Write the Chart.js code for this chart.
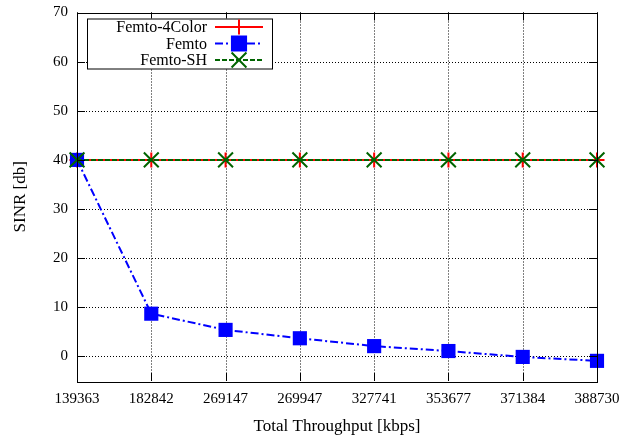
<!DOCTYPE html>
<html>
<head>
<meta charset="utf-8">
<script src="https://cdn.jsdelivr.net/npm/chart.js@4"></script>
<style>
  html, body { margin: 0; padding: 0; background: #fff; }
  #wrap { width: 620px; height: 437px; }
</style>
</head>
<body>
<div id="wrap"><canvas id="chart" width="620" height="437"></canvas></div>
<script>
const throughput = ["139363", "182842", "269147", "269947", "327741", "353677", "371384", "388730"];
const femto4Color = [40, 40, 40, 40, 40, 40, 40, 40];
const femto = [40, 8.7, 5.4, 3.7, 2.1, 1.1, -0.1, -0.9];
const femtoSH = [40, 40, 40, 40, 40, 40, 40, 40];
const yTicks = [0, 10, 20, 30, 40, 50, 60, 70];

const serif = "'Liberation Serif', 'DejaVu Serif', serif";

// gnuplot-like legend box, text on the left and line sample on the right
const boxLegend = {
  id: 'boxLegend',
  afterDraw(chart) {
    const ctx = chart.ctx;
    const a = chart.chartArea;
    const x0 = a.left + 10, y0 = a.top + 6, w = 185, rowH = 16.5;
    const sets = chart.data.datasets;
    const h = sets.length * rowH + 0.5;
    ctx.save();
    ctx.fillStyle = '#fff';
    ctx.fillRect(x0, y0, w, h);
    ctx.strokeStyle = '#000';
    ctx.lineWidth = 1;
    ctx.strokeRect(x0 + 0.5, y0 + 0.5, w, h);
    ctx.font = '16px ' + serif;
    ctx.textAlign = 'right';
    ctx.textBaseline = 'middle';
    sets.forEach((ds, i) => {
      const cy = y0 + 8.5 + i * rowH;
      ctx.fillStyle = '#000';
      ctx.fillText(ds.label, x0 + 120, cy + 1);
      ctx.strokeStyle = ds.borderColor;
      ctx.lineWidth = ds.borderWidth;
      ctx.setLineDash(ds.borderDash || []);
      ctx.beginPath();
      ctx.moveTo(x0 + 128, cy);
      ctx.lineTo(x0 + 176, cy);
      ctx.stroke();
      ctx.setLineDash([]);
      Chart.helpers.drawPoint(ctx, {
        pointStyle: ds.pointStyle,
        radius: ds.pointRadius,
        rotation: 0,
        borderWidth: ds.pointBorderWidth || ds.borderWidth
      }, x0 + 152, cy);
      if (ds.pointStyle === 'rect') {
        ctx.fillStyle = ds.pointBackgroundColor;
        ctx.fill();
      }
    });
    ctx.restore();
  }
};

// dotted grid, inward tick marks and frame, drawn at the scale positions
const frame = {
  id: 'frame',
  beforeDatasetsDraw(chart) {
    const ctx = chart.ctx;
    const a = chart.chartArea;
    const xs = chart.scales.x, ys = chart.scales.y;
    ctx.save();
    ctx.strokeStyle = '#000';
    ctx.lineWidth = 1;
    ctx.setLineDash([1, 2]);
    ctx.beginPath();
    throughput.forEach((c, i) => {
      const px = Math.round(xs.getPixelForValue(i)) + 0.5;
      ctx.moveTo(px, a.top); ctx.lineTo(px, a.bottom);
    });
    yTicks.forEach(v => {
      const py = Math.round(ys.getPixelForValue(v)) + 0.5;
      ctx.moveTo(a.left, py); ctx.lineTo(a.right, py);
    });
    ctx.stroke();
    ctx.restore();
  },
  afterDatasetsDraw(chart) {
    const ctx = chart.ctx;
    const a = chart.chartArea;
    const xs = chart.scales.x, ys = chart.scales.y;
    ctx.save();
    ctx.strokeStyle = '#000';
    ctx.lineWidth = 1;
    ctx.beginPath();
    throughput.forEach((c, i) => {
      const px = Math.round(xs.getPixelForValue(i)) + 0.5;
      ctx.moveTo(px, a.bottom); ctx.lineTo(px, a.bottom - 8);
      ctx.moveTo(px, a.top); ctx.lineTo(px, a.top + 8);
    });
    yTicks.forEach(v => {
      const py = Math.round(ys.getPixelForValue(v)) + 0.5;
      ctx.moveTo(a.left, py); ctx.lineTo(a.left + 8, py);
      ctx.moveTo(a.right, py); ctx.lineTo(a.right - 8, py);
    });
    ctx.stroke();
    ctx.strokeRect(Math.round(a.left) + 0.5, Math.round(a.top) + 0.5,
      Math.round(a.right - a.left), Math.round(a.bottom - a.top));
    ctx.restore();
  }
};

new Chart(document.getElementById('chart').getContext('2d'), {
  type: 'line',
  data: {
    labels: throughput,
    datasets: [
      {
        label: 'Femto-4Color',
        data: femto4Color,
        order: 3,
        borderColor: '#ff0000',
        backgroundColor: '#ff0000',
        borderWidth: 2,
        pointStyle: 'cross',
        pointRadius: 7.5,
        pointBorderWidth: 2,
        pointBorderColor: '#ff0000',
        fill: false,
        clip: false
      },
      {
        label: 'Femto',
        data: femto,
        order: 2,
        borderColor: '#0000ff',
        backgroundColor: '#0000ff',
        borderWidth: 2,
        borderDash: [8, 3, 2, 3],
        pointStyle: 'rect',
        pointRadius: 10,
        pointBorderWidth: 0,
        pointBackgroundColor: '#0000ff',
        fill: false,
        clip: false
      },
      {
        label: 'Femto-SH',
        data: femtoSH,
        order: 1,
        borderColor: '#006400',
        backgroundColor: '#006400',
        borderWidth: 2,
        borderDash: [5, 2],
        pointStyle: 'crossRot',
        pointRadius: 10.5,
        pointBorderWidth: 2,
        pointBorderColor: '#006400',
        fill: false,
        clip: false
      }
    ]
  },
  options: {
    responsive: false,
    animation: false,
    layout: { padding: { top: 10, right: 23, left: 10, bottom: 0 } },
    plugins: {
      legend: { display: false },
      tooltip: { enabled: false }
    },
    scales: {
      x: {
        offset: false,
        grid: { display: false, drawTicks: false },
        border: { display: false },
        ticks: {
          color: '#000',
          font: { family: serif, size: 15 },
          padding: 9,
          maxRotation: 0,
          autoSkip: false
        },
        title: {
          display: true,
          text: 'Total Throughput [kbps]',
          color: '#000',
          font: { family: serif, size: 17 },
          padding: { top: 1, bottom: 0 }
        },
        afterFit(scale) {
          scale.height = 56;
          scale.paddingLeft = 0;
          scale.paddingRight = 0;
        }
      },
      y: {
        min: -5,
        max: 70,
        afterBuildTicks(scale) { scale.ticks = yTicks.map(v => ({ value: v })); },
        grid: { display: false, drawTicks: false },
        border: { display: false },
        ticks: {
          color: '#000',
          font: { family: serif, size: 15 },
          padding: 9
        },
        title: {
          display: true,
          text: 'SINR [db]',
          color: '#000',
          font: { family: serif, size: 17 },
          padding: { top: 0, bottom: 6 }
        },
        afterFit(scale) {
          scale.width = 67;
          scale.paddingTop = 0;
          scale.paddingBottom = 0;
        }
      }
    }
  },
  plugins: [boxLegend, frame]
});
</script>
</body>
</html>
